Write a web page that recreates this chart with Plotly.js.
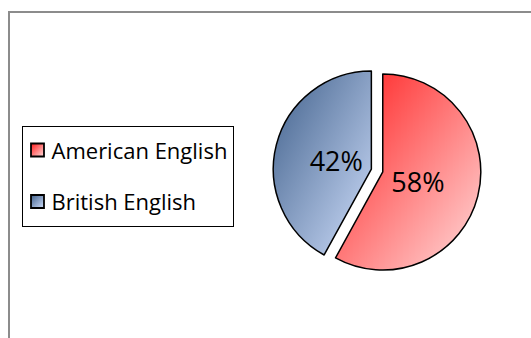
<!DOCTYPE html>
<html><head><meta charset="utf-8">
<script src="https://cdn.plot.ly/plotly-3.0.1.min.js"></script>
<style>html,body{margin:0;padding:0;background:#fff;} #chart{width:531px;height:338px;}</style>
</head><body><div id="chart"></div>
<script>
const labels = ['American English', 'British English'];
const values = [58, 42];
const sliceColors = ['#ff6a6a', '#7f9cc6'];
const gradientStops = [['#ff1c1c', '#ffdcdc'], ['#40608b', '#cfdefb']];

const trace = {
  type: 'pie',
  labels: labels,
  values: values,
  sort: false,
  direction: 'clockwise',
  rotation: 0,
  pull: [0.06, 0.06],
  marker: {colors: sliceColors, line: {color: '#000', width: 1.5}},
  textinfo: 'percent',
  textposition: 'inside',
  insidetextorientation: 'horizontal',
  insidetextfont: {family: 'Open Sans, sans-serif', size: 27, color: '#000'},
  domain: {x: [0.4566, 0.9636], y: [0.188, 0.803]},
  hoverinfo: 'none'
};

const layout = {
  width: 531, height: 338,
  margin: {l: 0, r: 0, t: 0, b: 0},
  paper_bgcolor: '#fff',
  showlegend: true,
  legend: {
    x: 22 / 531, xanchor: 'left', y: 1 - 126 / 338, yanchor: 'top',
    bordercolor: '#000', borderwidth: 1, bgcolor: '#fff',
    font: {family: 'Open Sans, sans-serif', size: 22, color: '#000'},
    traceorder: 'normal'
  },
  shapes: [{
    type: 'rect', xref: 'paper', yref: 'paper',
    x0: 9 / 531, x1: 1.05, y0: -0.05, y1: 1 - 12 / 338,
    line: {color: '#8c8c8c', width: 2}, fillcolor: 'rgba(0,0,0,0)', layer: 'below'
  }]
};

Plotly.newPlot('chart', [trace], layout, {staticPlot: true, displayModeBar: false}).then(function (gd) {
  const svgNS = 'http://www.w3.org/2000/svg';
  const svg = gd.querySelector('svg.main-svg');
  let defs = svg.querySelector('defs');
  if (!defs) { defs = document.createElementNS(svgNS, 'defs'); svg.insertBefore(defs, svg.firstChild); }
  gradientStops.forEach(function (st, i) {
    const g = document.createElementNS(svgNS, 'linearGradient');
    g.setAttribute('id', 'sliceGrad' + i);
    g.setAttribute('x1', '0'); g.setAttribute('y1', '0');
    g.setAttribute('x2', '1'); g.setAttribute('y2', '1');
    st.forEach(function (c, j) {
      const s = document.createElementNS(svgNS, 'stop');
      s.setAttribute('offset', j ? '1' : '0');
      s.setAttribute('stop-color', c);
      g.appendChild(s);
    });
    defs.appendChild(g);
  });
  const labelFactor = 0.37;
  gd.querySelectorAll('.slice').forEach(function (sl, k) {
    const d = sl.__data__;
    const i = (d && typeof d.i === 'number') ? d.i : k;
    const p = sl.querySelector('path.surface');
    if (p) p.style.fill = 'url(#sliceGrad' + i + ')';
    const tx = sl.querySelector('text.slicetext');
    if (tx && d && d.pxmid && typeof d.cxFinal === 'number') {
      const bb = tx.getBBox();
      const cur = tx.getAttribute('transform') || '';
      const m = /translate\(([-\d.e]+)[ ,]+([-\d.e]+)\)/.exec(cur);
      if (m) {
        const ox = parseFloat(m[1]), oy = parseFloat(m[2]);
        const tx0 = d.cxFinal + d.pxmid[0] * labelFactor;
        const ty0 = d.cyFinal + d.pxmid[1] * labelFactor;
        const nx = tx0 - (bb.x + bb.width / 2);
        const ny = ty0 - (bb.y + bb.height / 2);
        tx.setAttribute('transform', 'translate(' + nx + ',' + ny + ')');
      }
    }
  });
  const leg = gd.querySelector('.legend');
  if (leg) {
    leg.setAttribute('transform', 'translate(22,126)');
    const bg = leg.querySelector('rect.bg');
    if (bg) {
      bg.setAttribute('x', 0); bg.setAttribute('y', 0);
      bg.setAttribute('width', 211); bg.setAttribute('height', 100);
    }
    const sb = leg.querySelector('.scrollbox');
    if (sb) { sb.removeAttribute('clip-path'); sb.setAttribute('transform', 'translate(0,0)'); }
    const itemY = [24, 75.5];
    leg.querySelectorAll('.traces').forEach(function (t, k) {
      const d = t.__data__;
      const i = (d && d[0] && typeof d[0].i === 'number') ? d[0].i : k;
      t.setAttribute('transform', 'translate(-4.5,' + itemY[k] + ')');
      t.querySelectorAll('.legendpoints path').forEach(function (p) {
        p.setAttribute('d', 'M6.5,6.5H-6.5V-6.5H6.5Z');
        p.style.fill = 'url(#sliceGrad' + i + ')';
        p.style.stroke = '#000';
        p.style.strokeWidth = '1.8px';
      });
      const tx = t.querySelector('text.legendtext');
      if (tx) tx.setAttribute('x', 34);
    });
  }
});
</script>
</body></html>
